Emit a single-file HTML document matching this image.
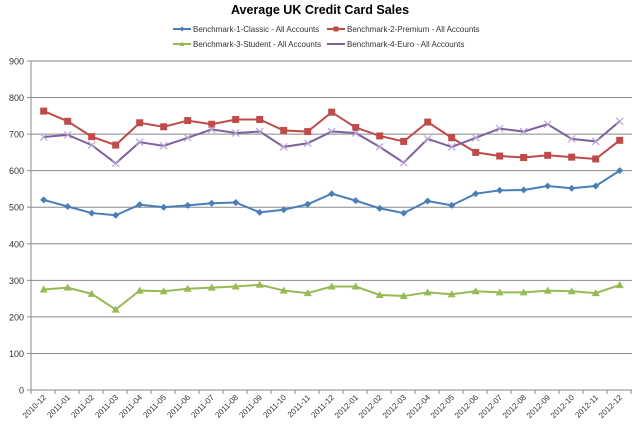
<!DOCTYPE html>
<html><head><meta charset="utf-8"><style>
body{margin:0;background:#fff;width:640px;height:428px;overflow:hidden}
svg{display:block;font-family:"Liberation Sans",sans-serif}
</style></head><body>
<svg id="c" width="640" height="428" xmlns="http://www.w3.org/2000/svg">
<text x="320" y="14" text-anchor="middle" font-size="12.5" font-weight="bold" fill="#000">Average UK Credit Card Sales</text>
<g font-size="8" fill="#333">
<line x1="173" y1="29" x2="191" y2="29" stroke="#4a7ebb" stroke-width="2"/><path d="M182 26.5 L184.5 29 L182 31.5 L179.5 29Z" fill="#4a7ebb"/>
<text x="193" y="32">Benchmark-1-Classic - All Accounts</text>
<line x1="327" y1="29" x2="345" y2="29" stroke="#be4b48" stroke-width="2"/><rect x="333.5" y="26.5" width="5" height="5" fill="#be4b48"/>
<text x="347" y="32">Benchmark-2-Premium - All Accounts</text>
<line x1="173" y1="44" x2="191" y2="44" stroke="#98b954" stroke-width="2"/><path d="M182 41.5 L184.5 46 L179.5 46Z" fill="#98b954"/>
<text x="193" y="47">Benchmark-3-Student - All Accounts</text>
<line x1="327" y1="44" x2="345" y2="44" stroke="#7d60a0" stroke-width="2"/>
<text x="347" y="47">Benchmark-4-Euro - All Accounts</text>
</g>
<g id="grid"></g><g id="ser"></g>
</svg>
<script>
var s=document.getElementById('c'),g=document.getElementById('grid'),sr=document.getElementById('ser');
var NS='http://www.w3.org/2000/svg';
function el(p,t,a,txt){var e=document.createElementNS(NS,t);for(var k in a)e.setAttribute(k,a[k]);if(txt)e.textContent=txt;p.appendChild(e);return e;}
function Y(v){return 390-v*(329/900);}
function X(i){return 43.7+i*24;}
for(var v=0;v<=900;v+=100){var y=Y(v);
 if(v>0)el(g,'line',{x1:31,x2:632,y1:y,y2:y,stroke:'#8a8a8a','stroke-width':1});
 el(g,'line',{x1:27,x2:31,y1:y,y2:y,stroke:'#8a8a8a'});
 el(g,'text',{x:24,y:y+3.5,'text-anchor':'end','font-size':9,fill:'#333'},String(v));}
el(g,'line',{x1:31,x2:31,y1:Y(900),y2:390,stroke:'#8a8a8a'});
el(g,'line',{x1:31,x2:632,y1:390,y2:390,stroke:'#8a8a8a'});
var labs=[];for(var i=0;i<25;i++){var m=(11+i)%12+1,yr=2010+Math.floor((11+i)/12);labs.push(yr+'-'+(m<10?'0':'')+m);}
for(var i=0;i<=25;i++){var x=31+i*24;el(g,'line',{x1:x,x2:x,y1:390,y2:394,stroke:'#8a8a8a'});}
for(var i=0;i<25;i++){var x=X(i)+3,y=398;el(g,'text',{x:x,y:y,'text-anchor':'end','font-size':8,fill:'#333',transform:'rotate(-45 '+x+' '+y+')'},labs[i]);}
var D=[
['#4a7ebb','d',[520,502,484,478,507,500,505,511,513,486,493,508,537,518,497,484,517,505,537,546,547,558,552,558,600]],
['#be4b48','s',[763,735,693,670,731,720,737,727,740,740,710,707,760,718,695,680,733,690,650,640,636,642,637,632,683]],
['#98b954','t',[275,280,263,220,272,270,277,280,283,288,272,265,283,283,260,257,267,262,270,267,267,272,270,265,287]],
['#7d60a0','x',[692,698,670,620,678,668,690,713,703,707,665,675,707,703,665,622,687,665,690,715,707,727,687,680,735]]];
D.forEach(function(d){var pts=d[2].map(function(v,i){return X(i)+','+Y(v)}).join(' ');
 el(sr,'polyline',{points:pts,fill:'none',stroke:d[0],'stroke-width':2});
 d[2].forEach(function(v,i){var x=X(i),y=Y(v);
  if(d[1]=='d')el(sr,'path',{d:'M'+x+' '+(y-3.5)+'L'+(x+3.5)+' '+y+'L'+x+' '+(y+3.5)+'L'+(x-3.5)+' '+y+'Z',fill:d[0]});
  else if(d[1]=='s')el(sr,'rect',{x:x-3.5,y:y-3.5,width:7,height:7,fill:d[0]});
  else if(d[1]=='t')el(sr,'path',{d:'M'+x+' '+(y-4)+'L'+(x+4)+' '+(y+3)+'L'+(x-4)+' '+(y+3)+'Z',fill:d[0]});
  else el(sr,'path',{d:'M'+(x-3.5)+' '+(y-3.5)+'L'+(x+3.5)+' '+(y+3.5)+'M'+(x+3.5)+' '+(y-3.5)+'L'+(x-3.5)+' '+(y+3.5),stroke:'#b5a6cc','stroke-width':1.2});
 });});
</script>
</body></html>
